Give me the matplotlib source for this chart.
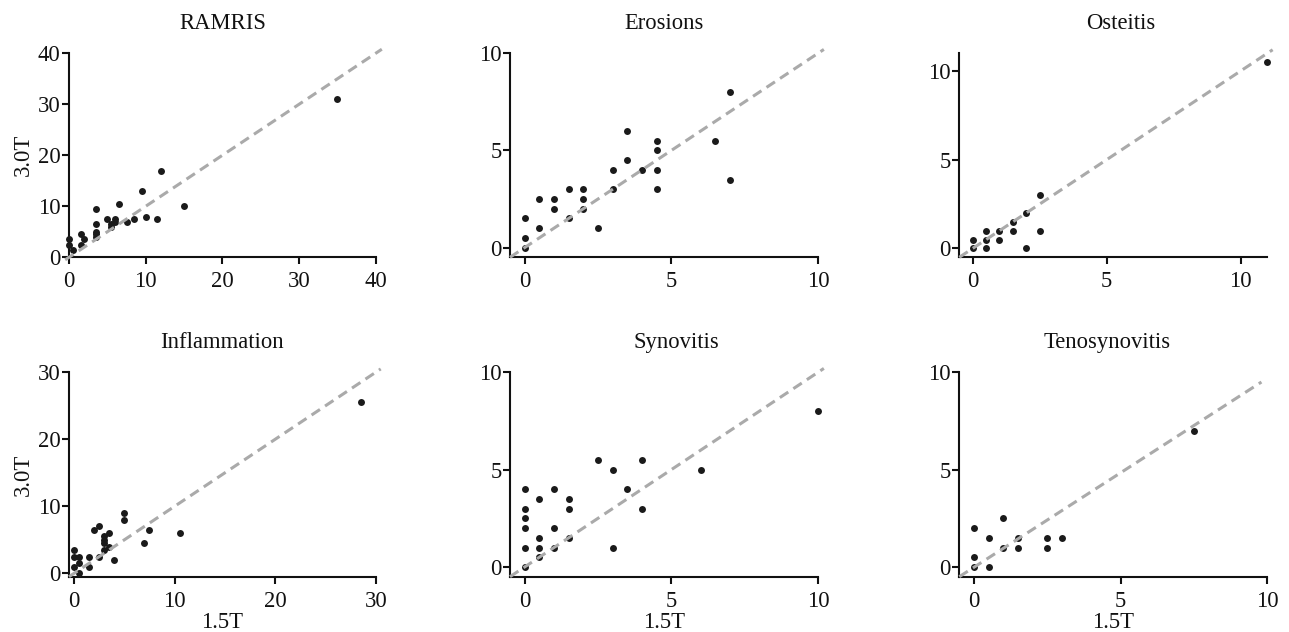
import matplotlib
matplotlib.use("Agg")
import matplotlib.pyplot as plt

plt.rcParams['font.family'] = ['Liberation Serif', 'DejaVu Serif']

# ---- data (1.5T on x, 3.0T on y) ----
titles = ["RAMRIS", "Erosions", "Osteitis", "Inflammation", "Synovitis", "Tenosynovitis"]

ramris_x = [0, 0, 0.5, 1.5, 1.5, 2, 3.5, 3.5, 3.5, 3.5, 3.5, 5, 5.5, 5.5, 6, 6, 6.5, 7.5, 8.5, 9.5, 10, 11.5, 12, 15, 35]
ramris_y = [3.5, 2.5, 1.5, 4.5, 2.5, 3.5, 9.5, 6.5, 5, 4.5, 4, 7.5, 6.5, 6, 7.5, 7, 10.5, 7, 7.5, 13, 8, 7.5, 17, 10, 31]

erosions_x = [0, 0, 0, 0.5, 0.5, 1, 1, 1.5, 1.5, 2, 2, 2, 2.5, 3, 3, 3.5, 3.5, 4, 4.5, 4.5, 4.5, 4.5, 6.5, 7, 7]
erosions_y = [0, 0.5, 1.5, 1, 2.5, 2.5, 2, 3, 1.5, 3, 2.5, 2, 1, 4, 3, 6, 4.5, 4, 5.5, 5, 4, 3, 5.5, 8, 3.5]

osteitis_x = [0, 0, 0.5, 0.5, 0.5, 1, 1, 1.5, 1.5, 2, 2, 2.5, 2.5, 11]
osteitis_y = [0, 0.5, 0, 0.5, 1, 0.5, 1, 1, 1.5, 2, 0, 1, 3, 10.5]

inflam_x = [0, 0, 0, 0.5, 0.5, 0.5, 1.5, 1.5, 2.5, 2, 2.5, 3, 3, 3, 3, 3.5, 3.5, 4, 5, 5, 7, 7.5, 10.5, 28.5]
inflam_y = [3.5, 2.5, 1, 2.5, 1.5, 0, 2.5, 1, 2.5, 6.5, 7, 5.5, 5, 4.5, 3.5, 6, 4, 2, 9, 8, 4.5, 6.5, 6, 25.5]

synov_x = [0, 0, 0, 0, 0, 0, 0.5, 0.5, 0.5, 0.5, 1, 1, 1, 1.5, 1.5, 1.5, 2.5, 3, 3, 3.5, 4, 4, 6, 10]
synov_y = [0, 1, 2, 2.5, 3, 4, 0.5, 1, 1.5, 3.5, 1, 2, 4, 1.5, 3, 3.5, 5.5, 5, 1, 4, 5.5, 3, 5, 8]

teno_x = [0, 0, 0, 0.5, 0.5, 1, 1, 1.5, 1.5, 2.5, 2.5, 3, 7.5]
teno_y = [0, 0.5, 2, 0, 1.5, 2.5, 1, 1.5, 1, 1.5, 1, 1.5, 7]

xs = [ramris_x, erosions_x, osteitis_x, inflam_x, synov_x, teno_x]
ys = [ramris_y, erosions_y, osteitis_y, inflam_y, synov_y, teno_y]

# reference (dashed) line end points per panel
line_x = [[-0.5, 40.8], [-0.5, 10.2], [-0.5, 11.2], [-0.5, 30.5], [-0.5, 10.2], [-0.5, 9.8]]
line_y = [[-0.5, 40.8], [-0.5, 10.2], [-0.5, 11.2], [-0.5, 30.5], [-0.5, 10.2], [-0.5, 9.5]]

xlims = [(0, 40), (-0.5, 10), (-0.5, 11), (-0.5, 30), (-0.5, 10), (-0.5, 10)]
ylims = [(0, 40), (-0.5, 10), (-0.5, 11), (-0.5, 30), (-0.5, 10), (-0.5, 10)]
xticks = [[0, 10, 20, 30, 40], [0, 5, 10], [0, 5, 10], [0, 10, 20, 30], [0, 5, 10], [0, 5, 10]]
yticks = [[0, 10, 20, 30, 40], [0, 5, 10], [0, 5, 10], [0, 10, 20, 30], [0, 5, 10], [0, 5, 10]]

# ---- layout ----
W, H = 1289, 632
FS = 16.3
fig = plt.figure(figsize=(W / 100, H / 100), dpi=100)
col_left = [69, 510, 959.3]
col_w = [306.7, 308, 308]
row_top = [53.3, 372.3]
row_h = [204, 204.4]
title_x = [0.5, 0.5, 0.523, 0.5, 0.541, 0.48]

for i in range(6):
    r, c = divmod(i, 3)
    ax = fig.add_axes([col_left[c] / W, 1 - (row_top[r] + row_h[r]) / H,
                       col_w[c] / W, row_h[r] / H])
    ax.scatter(xs[i], ys[i], s=25, color='#1a1a1a', linewidths=0, zorder=3, clip_on=False)
    ax.plot(line_x[i], line_y[i], color='#aaaaaa', lw=2.2,
            linestyle=(0, (3.3, 2.0)), zorder=4, clip_on=False)
    ax.set_xlim(*xlims[i])
    ax.set_ylim(*ylims[i])
    ax.set_xticks(xticks[i])
    ax.set_yticks(yticks[i])
    for s in ['top', 'right']:
        ax.spines[s].set_visible(False)
    for s in ['left', 'bottom']:
        ax.spines[s].set_linewidth(1.5)
        ax.spines[s].set_color('#111111')
    ax.tick_params(axis='both', direction='out', length=5, width=1.5,
                   color='#111111', labelsize=FS, labelcolor='#111111')
    ax.tick_params(axis='y', pad=1)
    ax.tick_params(axis='x', pad=5)
    ax.set_title(titles[i], fontsize=FS, pad=17.5, x=title_x[i], color='#111111')
    if c == 0:
        ax.set_ylabel("3.0T", fontsize=FS, labelpad=3, color='#111111')
    if r == 1:
        ax.set_xlabel("1.5T", fontsize=FS, labelpad=0, color='#111111')

fig.savefig("out.png", dpi=100)
